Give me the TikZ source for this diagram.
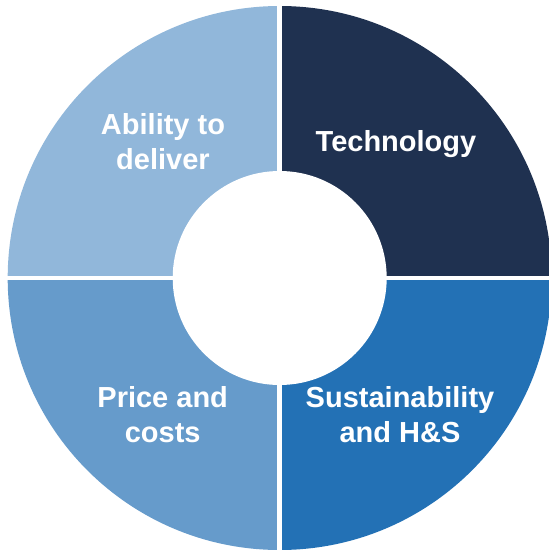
\documentclass[tikz,border=0pt]{standalone}
\usepackage{fontspec}
\setsansfont{Liberation Sans}
\usepackage{tikz}
\definecolor{techblue}{RGB}{31,49,80}
\definecolor{sustblue}{RGB}{35,113,181}
\definecolor{priceblue}{RGB}{102,155,203}
\definecolor{abilityblue}{RGB}{145,183,218}
\tikzstyle{label} = [text=white, align=center, inner sep=0pt, font=\sffamily\bfseries\fontsize{29}{35}\selectfont]
\tikzstyle{gap} = [white, line width=4.5pt]

\begin{document}
\begin{tikzpicture}[x=1pt, y=1pt]
	\useasboundingbox (-279.7,-272) rectangle (269.3,278);
	
	% four quarters of the ring
	\foreach \a/\col in {0/techblue, 90/abilityblue, 180/priceblue, 270/sustblue}
		\fill [\col] (0,0) -- (\a:272) arc (\a:\a+90:272) -- cycle;
	
	\draw [gap] (-285,0)--(285,0);
	\draw [gap] (0,-285)--(0,285);
	\fill [white] (0,0) circle (107);
	
	\node (B1) [label] at (116.3,134) {Technology};
	\node (B2) [label] at (-116.7,136) {Ability to\\deliver};
	\node (B3) [label] at (-117,-137) {Price and\\costs};
	\node (B4) [label] at (120.3,-137) {Sustainability\\and H\&S};
\end{tikzpicture}
\end{document}
